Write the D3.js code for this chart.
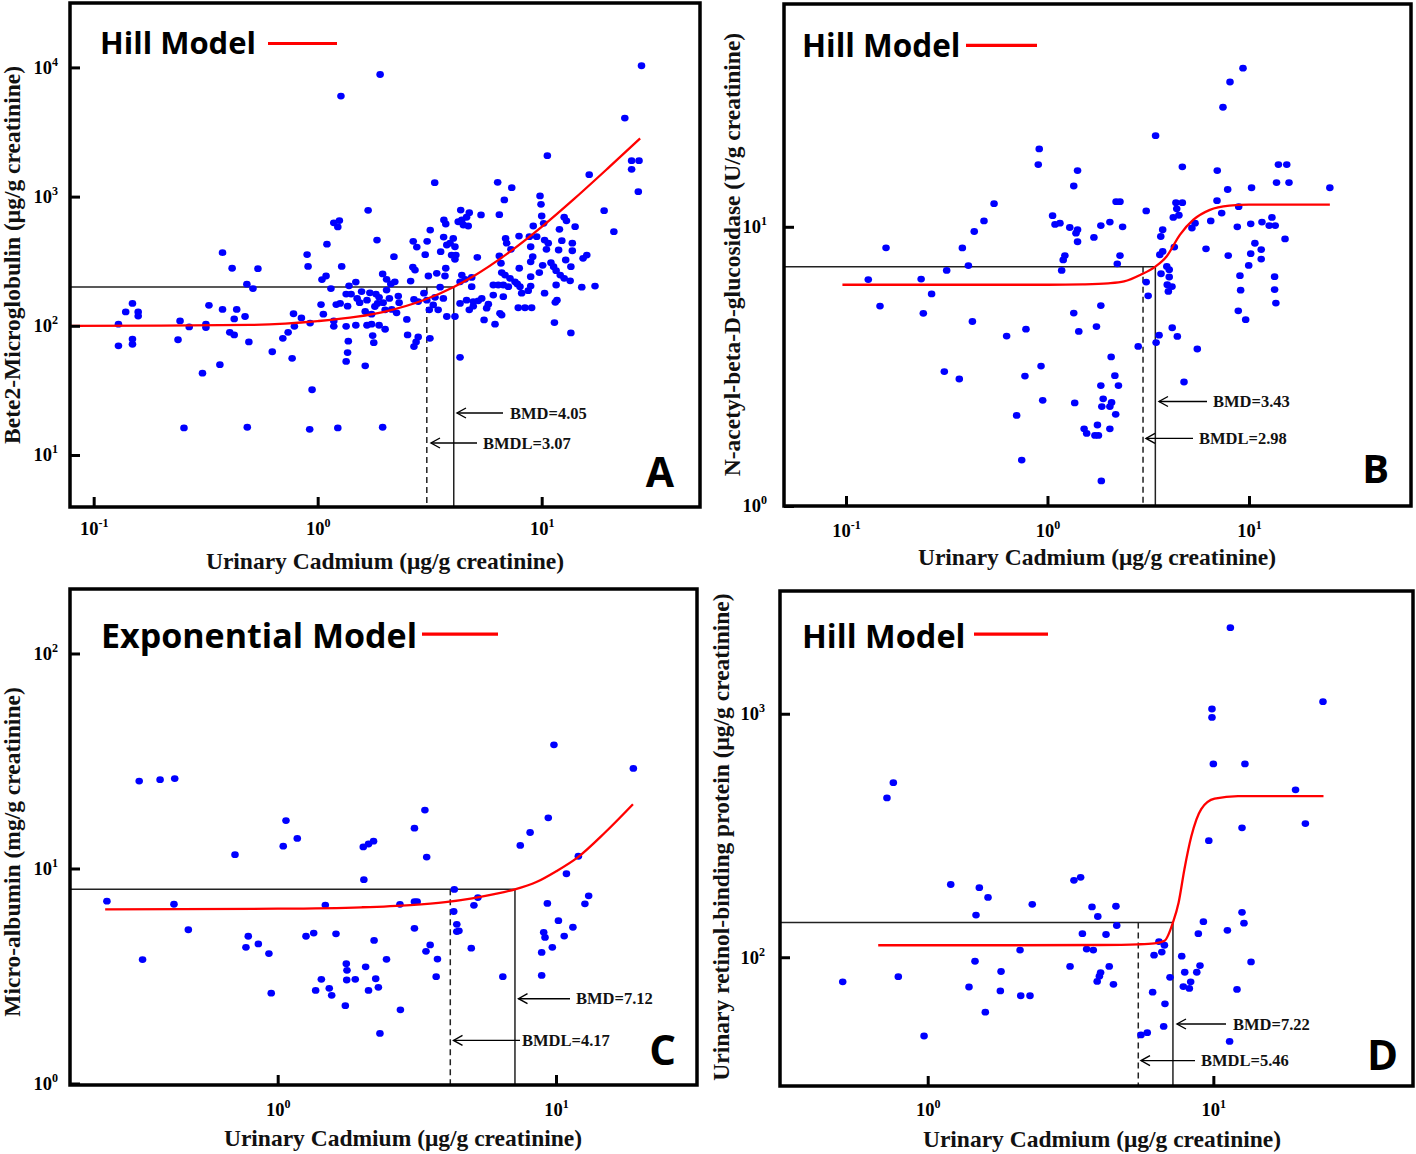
<!DOCTYPE html>
<html><head><meta charset="utf-8">
<script src="https://cdn.jsdelivr.net/npm/d3@7"></script>
<style>body{margin:0;background:#fff}</style>
</head><body>
<svg id="c" width="1416" height="1154" xmlns="http://www.w3.org/2000/svg"></svg>
<script>
// ---------------- DATA ----------------
const aPoints = [
[1.27,6000],[0.129,103],[0.139,128],[0.149,149],[0.158,128],[0.158,119],[0.129,70],[0.149,79],[0.149,72],[0.243,109],[0.238,78],[0.267,98],[0.253,16.2],[0.306,43],[0.317,103],[0.317,97],[0.327,144],[0.366,50],[0.376,368],[0.376,134],[0.405,89],[0.415,279],[0.424,85],[0.424,113],[0.435,134],[0.474,118],[0.483,210],[0.514,194],[0.493,75],[0.485,16.4],[0.541,277],[0.627,63],[0.699,80],[0.738,89],[0.769,56],[0.78,124],[0.787,99],[0.846,115],[0.897,356],[0.906,288],[0.925,105],[0.944,32],[0.921,15.8],[1.035,146],[1.045,228],[1.09,243],[1.06,123],[1.10,428],[1.146,194],[1.18,627],[1.23,583],[1.25,652],[1.28,288],[1.18,109],[1.18,99],[1.23,16.2],[1.21,146],[1.26,149],[1.34,53],[1.36,62],[1.37,76],[1.34,99],[1.34,176],[1.38,204],[1.36,142],
[3.33,1282],[1.68,783],[1.84,461],[2.19,343],[2.67,451],[2.77,407],[3.08,451],[3.18,551],[3.02,355],[3.66,659],[3.73,614],[3.65,486],[3.54,375],[3.77,422],[2.66,284],[2.72,270],[3.12,243],[3.40,255],[3.70,243],[3.73,279],[2.60,222],[1.95,252],[2.03,229],[2.21,219],[2.12,211],[1.48,218],[1.57,184],[1.50,163],[1.66,158],[1.71,180],[1.82,176],[1.88,166],[1.85,149],[2.03,189],[2.09,163],[2.29,170],[2.31,151],[1.54,151],[1.63,129],[1.74,123],[1.80,141],[1.96,151],[2.0,133],[2.14,134],[2.25,126],[1.74,103],[1.88,101],[2.0,94],[1.66,101],[1.76,84],[1.78,74],[1.63,49],[2.50,112],[2.52,85],[2.69,160],[2.81,154],[2.98,179],[3.07,158],[3.15,133],[3.28,145],[3.45,133],[3.34,166],[3.52,199],[3.64,163],[3.77,118],[2.81,82],[2.75,75],[2.69,69],[3.17,80],[1.41,176],[1.48,101],
[10.6,2075],[16.3,1479],[25.2,1897],[25.2,1626],[27.2,1897],[27.0,1091],[6.36,1291],[7.35,1172],[6.81,942],[9.83,1012],[9.93,871],[19.0,778],[21.0,535],[4.35,787],[4.75,750],[4.62,692],[4.40,659],[4.24,639],[4.47,603],[4.70,592],[5.36,721],[6.47,725],[10.0,708],[10.2,621],[9.17,592],[12.6,692],[12.9,650],[14.1,585],[12.0,558],[4.03,475],[3.90,436],[4.10,409],[3.96,353],[4.14,353],[4.10,327],[5.16,339],[6.90,475],[6.98,436],[7.29,391],[7.92,495],[8.81,490],[9.50,490],[8.93,409],[10.3,461],[10.7,436],[10.5,391],[12.3,456],[13.7,436],[13.7,381],[11.9,386],[6.47,347],[6.58,305],[9.12,343],[8.93,313],[7.94,279],[10.1,294],[11.0,308],[11.3,287],[11.6,267],[12.8,323],[13.5,287],[15.3,333],[15.9,353],[12.1,247],[12.6,233],[13.4,223],[4.40,247],[4.55,229],[4.32,219],[4.87,237],[4.87,201],[6.63,258],[6.86,247],[7.22,233],[7.60,219],[7.78,211],[8.00,201],[6.08,207],[6.40,207],[6.74,207],[7.10,201],[8.93,240],[8.93,203],[8.71,187],[8.14,179],[9.76,258],[11.6,207],[15.1,199],[17.3,203],[10.3,179],[6.08,173],[6.74,168],[5.40,163],[5.21,156],[4.95,154],[4.62,158],[4.32,149],[5.78,147],[5.68,137],[4.95,142],[4.75,133],[7.86,138],[8.42,138],[9.02,138],[11.7,158],[11.5,152],[6.51,125],[6.63,121],[5.53,111],[6.19,103],[4.10,118],[11.4,106],[13.5,88],[4.32,57],
[1.90,8810],[27.9,10300],[23.5,4055],[1.95,16.4]
];
const aCurve = [[0.079,100],[0.2,100.2],[0.5,101.6],[1,108.7],[1.5,117.6],[2,129],[3,159],[4.05,200],[5,244],[7,360],[10,583],[14,964],[20,1690],[27.5,2820]];

const bPoints = [
[0.129,6.47],[0.158,8.41],[0.1475,5.20],[0.236,6.50],[0.242,4.90],[0.266,5.75],[0.3076,3.03],[0.316,6.98],[0.365,2.85],[0.378,8.40],[0.405,7.26],[0.424,4.58],[0.433,9.62],[0.484,10.5],[0.543,12.1],[0.627,4.06],[0.703,2.11],[0.745,1.46],[0.773,2.92],[0.782,4.30],[0.91,19.0],[0.90,16.7],[0.929,3.17],[0.947,2.39],[1.06,10.96],[1.09,10.2],[1.153,10.3],[1.176,6.98],[1.197,7.61],[1.22,7.89],
[3.44,21.2],[4.67,16.4],[1.41,15.9],[1.35,14.0],[2.19,12.3],[2.29,12.3],[3.09,11.4],[4.34,12.2],[4.67,12.2],[4.38,11.6],[4.49,11.0],[4.21,10.8],[1.29,9.94],[1.41,9.76],[1.385,9.49],[1.41,8.84],[1.84,10.1],[2.04,10.4],[2.36,10.0],[1.70,9.16],[3.73,9.76],[3.65,9.23],[5.21,9.9],[5.40,10.3],[2.29,7.89],[2.22,7.37],[3.73,8.16],[3.61,7.94],[4.26,8.46],[3.91,7.21],[4.02,7.02],[3.66,6.79],[4.02,6.61],[4.15,6.11],[3.93,6.20],[3.98,5.87],[3.09,6.34],[3.16,5.66],[1.84,5.22],[1.35,4.91],[1.43,4.22],[1.75,4.39],[2.82,3.73],[3.46,3.85],[3.58,4.09],[4.16,4.35],[4.41,4.05],[5.54,3.65],[2.07,3.42],[2.16,2.93],[1.84,2.70],[2.25,2.70],[1.365,2.34],[1.89,2.42],[2.08,2.35],[1.86,2.27],[2.04,2.27],[2.18,2.13],[1.77,1.95],[2.04,1.89],[1.52,1.89],[1.565,1.82],[1.72,1.79],[1.79,1.79],[4.76,2.78],[1.85,1.23],
[9.34,37.0],[8.05,33.0],[7.43,26.8],[6.96,15.9],[7.84,13.6],[6.94,12.4],[7.32,11.2],[6.46,10.5],[6.12,8.34],[7.89,7.89],[8.89,11.8],[10.3,13.8],[14.0,16.7],[15.4,16.7],[13.7,14.4],[15.8,14.4],[25.2,13.8],[8.75,10.0],[10.2,10.25],[11.6,10.4],[13.0,10.8],[12.6,10.1],[13.5,10.1],[10.7,8.73],[11.5,8.29],[10.2,8.01],[11.5,7.66],[15.1,9.05],[9.97,7.27],[9.02,6.68],[9.09,5.93],[13.4,6.63],[13.4,5.96],[13.6,5.33],[8.85,5.00],[9.63,4.65]
];
const bCurve = [[0.096,6.2],[1,6.2],[1.5,6.22],[2,6.27],[2.4,6.37],[2.9,6.73],[3.43,7.2],[3.9,7.83],[4.54,9.36],[5.3,10.6],[6.4,11.5],[8,11.9],[10,12.0],[25.2,12.0]];

const cPoints = [
[0.2435,7.05],[0.318,25.5],[0.378,25.9],[0.4266,26.2],[0.327,3.77],[0.424,6.82],[0.4775,5.19],
[0.7025,11.6],[1.071,16.7],[1.047,12.7],[1.176,13.8],[0.784,4.84],[0.769,4.30],[0.852,4.46],[0.930,4.02],[0.948,2.63],[1.264,4.84],[1.347,5.01],[1.483,6.76],[1.62,4.97],[2.04,8.87],[2.03,12.6],[2.12,13.0],[2.21,13.4],[2.22,4.63],[2.46,3.78],[1.764,3.61],[1.774,3.36],[1.77,3.03],[1.90,3.05],[2.07,3.49],[2.25,3.07],[1.435,3.05],[1.369,2.71],[1.532,2.77],[1.563,2.57],[1.75,2.30],[2.12,2.71],[2.30,2.80],[2.33,1.71],[2.76,2.20],[2.75,6.81],[3.10,7.01],[3.17,7.01],[3.10,5.27],[3.41,4.12],[3.10,15.4],[3.38,18.7],[3.43,11.3],[3.53,4.41],[3.75,3.79],[3.71,3.14],
[9.83,37.6],[18.96,29.2],[9.38,17.2],[8.07,14.7],[7.44,12.8],[12.03,11.4],[10.9,9.45],[4.31,7.99],[5.24,7.32],[5.07,6.74],[4.29,6.31],[4.40,5.50],[4.48,5.13],[4.40,5.09],[4.96,4.26],[6.44,3.14],[9.31,6.88],[10.2,5.72],[13.1,7.46],[12.7,6.85],[11.5,5.33],[10.7,4.85],[9.03,5.05],[9.13,4.78],[9.70,4.30],[8.88,4.07],[8.88,3.18]
];
const cCurve = [[0.24,6.45],[1,6.5],[2,6.6],[3,6.76],[4,6.98],[5,7.27],[6,7.6],[7.12,8.0],[8.5,8.65],[10,9.7],[12,11.3],[15,14.7],[18.9,19.9]];

const dPoints = [
[0.758,521],[0.72,451],[1.204,199],[1.516,193],[1.626,176],[1.476,149],[2.323,165],[2.105,107],[0.504,79.3],[0.789,83.2],[1.464,96.3],[1.806,87.4],[1.395,75.5],[1.796,72.7],[2.117,69.5],[2.281,69.5],[1.591,59.5],[0.971,47.5],
[11.47,2257],[24.2,1121],[9.89,1046],[9.89,966],[10.0,622],[12.9,622],[19.4,487],[21.0,354],[12.6,340],[9.64,301],[3.25,207],[3.43,213],[3.76,161],[4.56,162],[3.94,147],[12.6,153],[12.8,138],[9.23,140],[8.86,125],[11.2,129],[4.59,135],[3.48,125],[4.21,124],[3.60,108],[3.80,107],[6.45,116],[6.74,112],[6.60,105],[6.20,102],[7.75,101],[3.15,91.7],[4.32,91.7],[4.03,86.5],[3.99,83.6],[3.92,79.6],[4.47,77.4],[8.98,92.4],[8.75,86.8],[7.94,86.8],[7.05,82.7],[8.33,79.3],[7.85,75.8],[8.24,74.5],[13.55,95.7],[12.1,73.8],[6.13,71.9],[6.77,64.4],[6.70,52.0],[5.58,48.0],[5.87,49.0],[11.4,45.1]
];
const dCurve = [[0.671,112],[2,112],[4,112.3],[5.45,113],[6.22,114],[6.75,117],[7.22,139],[7.56,168],[7.92,230],[8.37,313],[9.07,406],[10.1,448],[12.2,459],[24.3,459]];

const bmdValues  = {A:4.05, B:3.43, C:7.12, D:7.22};
const bmdlValues = {A:3.07, B:2.98, C:4.17, D:5.46};
const bmrValues  = {A:200,  B:7.2,  C:8.0,  D:139};

const xTicksA = [0.1,1,10],  yTicksA = [10,100,1000,10000];
const xTicksB = [0.1,1,10],  yTicksB = [1,10];
const xTicksC = [1,10],      yTicksC = [1,10,100];
const xTicksD = [1,10],      yTicksD = [100,1000];

const modelNames = {A:"Hill Model", B:"Hill Model", C:"Exponential Model", D:"Hill Model"};
const yTitles = {
  A:"Bete2-Microglobulin (μg/g creatinine)",
  B:"N-acetyl-beta-D-glucosidase (U/g creatinine)",
  C:"Micro-albumin (mg/g creatinine)",
  D:"Urinary retinol-binding protein (μg/g creatinine)"
};
const xTitle = "Urinary Cadmium (μg/g creatinine)";

// ---------------- LAYOUT ----------------
const panels = [
 {id:"A", frame:[70,700,3,507], xd:[0.0784,50.9], yd:[3.958,31520], pts:aPoints, curve:aCurve, xt:xTicksA, yt:yTicksA,
  xpad:15, ypad:12, leg:{x:100,y:54,size:31,l:[268,337,43.5]}, letter:{x:674,y:487,size:41},
  bmdT:{tx:510,ty:413,a1:503,a2:457}, bmdlT:{tx:483,ty:443,a1:477,a2:431}, yT:{x:20,y:255}, xT:{x:385,y:569}},
 {id:"B", frame:[784,1411,4,506], xd:[0.04924,63.7], yd:[1,62.8], pts:bPoints, curve:bCurve, xt:xTicksB, yt:yTicksB,
  xpad:18, ypad:17, leg:{x:802,y:57,size:31.5,l:[966,1037,45.4]}, letter:{x:1389,y:483,size:40},
  bmdT:{tx:1213,ty:401.5,a1:1207,a2:1159}, bmdlT:{tx:1199,ty:438.4,a1:1193,a2:1146}, yT:{x:740,y:254.5}, xT:{x:1097,y:565}},
 {id:"C", frame:[70,697,589,1085], xd:[0.1794,32.1], yd:[0.984,199.5], pts:cPoints, curve:cCurve, xt:xTicksC, yt:yTicksC,
  xpad:18, ypad:12, leg:{x:101,y:648,size:34,l:[422,498,634.2]}, letter:{x:676,y:1065,size:42},
  bmdT:{tx:576,ty:998.7,a1:570,a2:518.5}, bmdlT:{tx:522,ty:1040.4,a1:520,a2:453.5}, yT:{x:20,y:852}, xT:{x:403,y:1146}},
 {id:"D", frame:[780,1413,591,1086], xd:[0.304,50.0], yd:[29.6,3192], pts:dPoints, curve:dCurve, xt:xTicksD, yt:yTicksD,
  xpad:17, ypad:15, leg:{x:802,y:648,size:32.5,l:[974,1048,634.2]}, letter:{x:1398,y:1070,size:42},
  bmdT:{tx:1233,ty:1024,a1:1226,a2:1177}, bmdlT:{tx:1201,ty:1060.6,a1:1195,a2:1141}, yT:{x:729,y:837}, xT:{x:1102,y:1147}}
];

// ---------------- DRAW ----------------
const svg = d3.select("#c");
const SERIF = "'Liberation Serif','Times New Roman',serif";
const SANS = "'Open Sans','Noto Sans',sans-serif";

function fmtTicks(sel){
  sel.selectAll(".tick text").each(function(d){
    const t = d3.select(this);
    const e = Math.round(Math.log10(d));
    t.text(null);
    t.append("tspan").text("10");
    t.append("tspan").attr("dy",-8).attr("font-size",12).text(String(e));
  });
}

panels.forEach(p=>{
  const [x0,x1,y0,y1] = p.frame;
  const x = d3.scaleLog().domain(p.xd).range([x0,x1]);
  const y = d3.scaleLog().domain(p.yd).range([y1,y0]);
  const g = svg.append("g");

  const bx = x(bmdValues[p.id]), blx = x(bmdlValues[p.id]), by = y(bmrValues[p.id]);
  g.append("line").attr("x1",x0).attr("x2",bx).attr("y1",by).attr("y2",by)
    .attr("stroke","#222").attr("stroke-width",1.5);
  g.append("line").attr("x1",bx).attr("x2",bx).attr("y1",by).attr("y2",y1)
    .attr("stroke","#222").attr("stroke-width",1.5);
  g.append("line").attr("x1",blx).attr("x2",blx).attr("y1",by).attr("y2",y1)
    .attr("stroke","#222").attr("stroke-width",1.5).attr("stroke-dasharray","6,4");

  g.append("g").selectAll("ellipse").data(p.pts).join("ellipse")
    .attr("cx",d=>x(d[0])).attr("cy",d=>y(d[1])).attr("rx",3.8).attr("ry",3.4)
    .attr("fill","#0000ff");

  const line = d3.line().x(d=>x(d[0])).y(d=>y(d[1])).curve(d3.curveMonotoneX);
  g.append("path").datum(p.curve).attr("d",line).attr("fill","none")
    .attr("stroke","#ff0000").attr("stroke-width",2.3);

  // axes
  const xa = g.append("g").attr("transform",`translate(0,${y1})`)
    .call(d3.axisBottom(x).tickValues(p.xt).tickSize(-10).tickSizeOuter(0).tickPadding(p.xpad));
  const ya = g.append("g").attr("transform",`translate(${x0},0)`)
    .call(d3.axisLeft(y).tickValues(p.yt).tickSize(-10).tickSizeOuter(0).tickPadding(p.ypad));
  [xa,ya].forEach(a=>{
    a.select(".domain").remove();
    a.attr("font-family",SERIF).attr("font-size",18.5).attr("font-weight","bold");
    a.selectAll(".tick line").attr("stroke","#000").attr("stroke-width",3);
    a.selectAll(".tick text").attr("fill","#000");
    fmtTicks(a);
  });

  // frame
  g.append("rect").attr("x",x0).attr("y",y0).attr("width",x1-x0).attr("height",y1-y0)
    .attr("fill","none").attr("stroke","#000").attr("stroke-width",3.5);

  // legend
  g.append("text").attr("x",p.leg.x).attr("y",p.leg.y).attr("font-family",SANS)
    .attr("font-weight",700).attr("font-size",p.leg.size).attr("fill","#000").text(modelNames[p.id]);
  g.append("line").attr("x1",p.leg.l[0]).attr("x2",p.leg.l[1]).attr("y1",p.leg.l[2]).attr("y2",p.leg.l[2])
    .attr("stroke","#ff0000").attr("stroke-width",3.2);

  // panel letter
  g.append("text").attr("x",p.letter.x).attr("y",p.letter.y).attr("text-anchor","end")
    .attr("font-family",SANS).attr("font-weight",700).attr("font-size",p.letter.size).attr("fill","#000").text(p.id);

  // BMD annotations
  [[p.bmdT,"BMD="+bmdValues[p.id].toFixed(2)],[p.bmdlT,"BMDL="+bmdlValues[p.id].toFixed(2)]].forEach(([a,txt])=>{
    g.append("line").attr("x1",a.a1).attr("x2",a.a2).attr("y1",a.ty).attr("y2",a.ty)
      .attr("stroke","#000").attr("stroke-width",1.4);
    g.append("path").attr("d",`M${a.a2+9},${a.ty-5}L${a.a2},${a.ty}L${a.a2+9},${a.ty+5}`)
      .attr("fill","none").attr("stroke","#000").attr("stroke-width",1.4);
    g.append("text").attr("x",a.tx).attr("y",a.ty).attr("dy","0.35em").attr("font-family",SERIF)
      .attr("font-weight","bold").attr("font-size",16.5).attr("fill","#111").text(txt);
  });

  // axis titles
  g.append("text").attr("x",p.xT.x).attr("y",p.xT.y).attr("text-anchor","middle")
    .attr("font-family",SERIF).attr("font-weight","bold").attr("font-size",23.5).attr("fill","#111").text(xTitle);
  g.append("text").attr("transform",`translate(${p.yT.x},${p.yT.y}) rotate(-90)`).attr("text-anchor","middle")
    .attr("font-family",SERIF).attr("font-weight","bold").attr("font-size",23.5).attr("fill","#111").text(yTitles[p.id]);
});
</script>
</body></html>
